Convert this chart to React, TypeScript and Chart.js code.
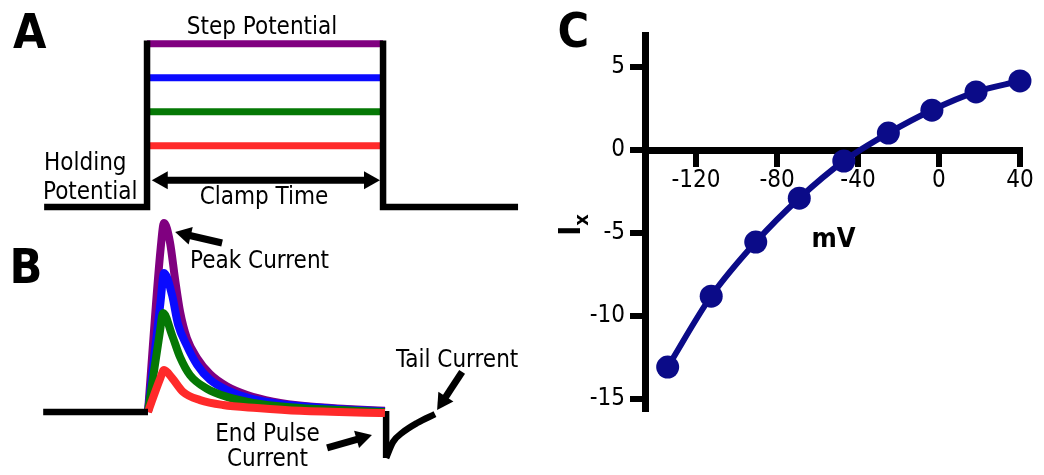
import React, { useEffect, useRef } from 'react';
import { Chart, registerables } from 'chart.js';

Chart.register(...registerables);

const FONT = '"DejaVu Sans Condensed", "Liberation Sans", Arial, sans-serif';

// ---------- Panel A : voltage protocol (time in ms-like units, potential in arbitrary steps)
const T_MIN = -62.3;
const T_MAX = 166.5;
const A_V_MIN = -0.235;
const A_V_MAX = 6.088;
const OUTLINE_T = [-43.6, 0, 0, 50, 100, 100, 157.2];
const OUTLINE_V: (number | null)[] = [0, 0, 4.9, null, 4.9, 0, 0];
const STEP_T = [0, 100];
const STEP_LEVELS = [1.8, 2.8, 3.8, 4.8];
const STEP_COLORS = ['#ff2a2a', '#057805', '#0a0aff', '#800080'];
const CLAMP_ARROW_T = [2.0, 98.7];
const CLAMP_ARROW_V = [0.79, 0.79];

// ---------- Panel B : current traces
const B_I_MIN = -33.33;
const B_I_MAX = 104.23;
const HOLD_T = [-44, 0.4];
const HOLD_I = [0, 0];
const RED_T = [0.4, 5.5, 7.2, 10.6, 15.3, 22.5, 32.2, 46.6, 64.8, 100.8];
const RED_I = [0, 17.5, 22.2, 18, 10.6, 6.3, 3.7, 2.1, 0.6, -0.5];
const GREEN_T = [0.4, 5.4, 6.8, 10.6, 14, 18.2, 25.4, 33.9, 44.9, 60.6, 81.8, 100.8];
const GREEN_I = [0, 42, 52.4, 40.7, 29, 19.5, 12.3, 8, 4.8, 2.5, 1, 0];
const BLUE_T = [0.4, 5.7, 7.2, 10.6, 13.1, 16.9, 21.2, 26.7, 33.9, 43.6, 56.4, 77.5, 100.8];
const BLUE_I = [0, 58, 73.5, 61.9, 46.5, 35, 25, 17, 11.6, 7.2, 4.3, 1.9, 0.3];
const PURPLE_T = [0.4, 5.8, 7.2, 9.7, 11.9, 14, 16.9, 21.2, 26.7, 33.9, 42.4, 53.4, 67.8, 84.7, 100.8];
const PURPLE_I = [0, 87, 100, 90, 70, 53, 39, 28.5, 20, 13.5, 9, 5.5, 3, 1.6, 0.6];
const TAIL_DROP_T = [101.3, 101.3];
const TAIL_DROP_I = [0.5, -24.3];
const TAIL_T = [101.3, 104.2, 108.5, 114.4, 122];
const TAIL_I = [-24.3, -15.9, -10.6, -5.8, -1.1];
const PEAK_ARROW_T = [31.8, 11.9];
const PEAK_ARROW_I = [89.4, 95.2];
const END_ARROW_T = [76.3, 95.3];
const END_ARROW_I = [-19, -12.2];
const TAILC_ARROW_T = [133.5, 122.9];
const TAILC_ARROW_I = [21.2, 1.06];

// ---------- Panel C : I-V relation
const MV = [-134, -112.5, -90.5, -69, -47, -25, -3.5, 18.3, 40];
const IX = [-13.07, -8.8, -5.54, -2.9, -0.66, 1.02, 2.4, 3.5, 4.16];
const X_TICKS = [-120, -80, -40, 0, 40];
const Y_TICKS = [-15, -10, -5, 0, 5];
const X_MIN = -145.2;
const X_MAX = 41.5;
const Y_MIN = -15.78;
const Y_MAX = 6.93;

const IV_COLOR = '#0b0b88';

type Arrow = { t: number[]; v: number[]; double?: boolean };

function pts(xs: number[], ys: (number | null)[]) {
  return xs.map((x, i) => ({ x, y: ys[i] }));
}

function arrowPlugin(arrows: Arrow[]) {
  return {
    id: 'arrows',
    afterDatasetsDraw(chart: any) {
      const ctx = chart.ctx as CanvasRenderingContext2D;
      const xs = chart.scales.x;
      const ys = chart.scales.y;
      const headLen = 16;
      const headW = 18;
      ctx.save();
      ctx.fillStyle = '#000';
      ctx.strokeStyle = '#000';
      ctx.lineWidth = 7;
      ctx.lineCap = 'butt';
      for (const a of arrows) {
        const x0 = xs.getPixelForValue(a.t[0]);
        const y0 = ys.getPixelForValue(a.v[0]);
        const x1 = xs.getPixelForValue(a.t[1]);
        const y1 = ys.getPixelForValue(a.v[1]);
        const len = Math.hypot(x1 - x0, y1 - y0);
        const ux = (x1 - x0) / len;
        const uy = (y1 - y0) / len;
        const sx = a.double ? x0 + ux * headLen * 0.8 : x0;
        const sy = a.double ? y0 + uy * headLen * 0.8 : y0;
        ctx.beginPath();
        ctx.moveTo(sx, sy);
        ctx.lineTo(x1 - ux * headLen * 0.8, y1 - uy * headLen * 0.8);
        ctx.stroke();
        const head = (tx: number, ty: number, dx: number, dy: number) => {
          const bx = tx - dx * headLen;
          const by = ty - dy * headLen;
          ctx.beginPath();
          ctx.moveTo(tx, ty);
          ctx.lineTo(bx - dy * headW / 2, by + dx * headW / 2);
          ctx.lineTo(bx + dy * headW / 2, by - dx * headW / 2);
          ctx.closePath();
          ctx.fill();
        };
        head(x1, y1, ux, uy);
        if (a.double) head(x0, y0, -ux, -uy);
      }
      ctx.restore();
    },
  };
}

function hiddenScales(yMin: number, yMax: number) {
  return {
    x: { type: 'linear', min: T_MIN, max: T_MAX, display: false },
    y: { type: 'linear', min: yMin, max: yMax, display: false },
  };
}

const baseOpts = {
  responsive: false,
  animation: false,
  devicePixelRatio: 1,
  layout: { padding: 0 },
  plugins: { legend: { display: false }, tooltip: { enabled: false } },
  elements: { point: { radius: 0 } },
};

function line(data: any[], color: string, width: number, extra: any = {}) {
  return {
    data,
    borderColor: color,
    backgroundColor: color,
    borderWidth: width,
    pointRadius: 0,
    fill: false,
    tension: 0,
    spanGaps: false,
    ...extra,
  };
}

function makeA() {
  const datasets: any[] = [line(pts(OUTLINE_T, OUTLINE_V), '#000', 6.5, { borderJoinStyle: 'miter' })];
  STEP_LEVELS.forEach((lv, i) => {
    datasets.push(line(pts(STEP_T, STEP_T.map(() => lv)), STEP_COLORS[i], 7));
  });
  return {
    type: 'line',
    data: { datasets },
    options: { ...baseOpts, scales: hiddenScales(A_V_MIN, A_V_MAX) },
    plugins: [arrowPlugin([{ t: CLAMP_ARROW_T, v: CLAMP_ARROW_V, double: true }])],
  };
}

function makeB() {
  const mono = { cubicInterpolationMode: 'monotone', borderJoinStyle: 'round' };
  const datasets: any[] = [
    line(pts(HOLD_T, HOLD_I), '#000', 6.5),
    line(pts(RED_T, RED_I), STEP_COLORS[0], 8, mono),
    line(pts(GREEN_T, GREEN_I), STEP_COLORS[1], 8, mono),
    line(pts(BLUE_T, BLUE_I), STEP_COLORS[2], 8, mono),
    line(pts(PURPLE_T, PURPLE_I), STEP_COLORS[3], 8, mono),
    line(pts(TAIL_DROP_T, TAIL_DROP_I), '#000', 6.5),
    line(pts(TAIL_T, TAIL_I), '#000', 6.5, mono),
  ];
  return {
    type: 'line',
    data: { datasets },
    options: { ...baseOpts, scales: hiddenScales(B_I_MIN, B_I_MAX) },
    plugins: [
      arrowPlugin([
        { t: PEAK_ARROW_T, v: PEAK_ARROW_I },
        { t: END_ARROW_T, v: END_ARROW_I },
        { t: TAILC_ARROW_T, v: TAILC_ARROW_I },
      ]),
    ],
  };
}

function makeC() {
  const tickFont = { family: FONT, size: 24, weight: 'normal' };
  return {
    type: 'line',
    data: {
      datasets: [
        {
          data: pts(MV, IX),
          borderColor: IV_COLOR,
          backgroundColor: IV_COLOR,
          borderWidth: 6,
          pointRadius: 11.5,
          pointBorderWidth: 0,
          pointBackgroundColor: IV_COLOR,
          cubicInterpolationMode: 'monotone',
          clip: false,
        },
      ],
    },
    options: {
      ...baseOpts,
      layout: { padding: { left: 45, top: 35, right: 21, bottom: 63 } },
      scales: {
        x: {
          type: 'linear',
          min: X_MIN,
          max: X_MAX,
          position: { y: 0 },
          afterBuildTicks: (s: any) => {
            s.ticks = X_TICKS.map((v) => ({ value: v }));
          },
          grid: { drawOnChartArea: false, drawTicks: true, tickLength: 13, tickWidth: 6, tickColor: '#000', lineWidth: 0 },
          border: { display: true, width: 7, color: '#000' },
          ticks: { font: tickFont, color: '#000', padding: 3, maxRotation: 0, autoSkip: false },
        },
        y: {
          type: 'linear',
          min: Y_MIN,
          max: Y_MAX,
          position: 'left',
          afterBuildTicks: (s: any) => {
            s.ticks = Y_TICKS.map((v) => ({ value: v }));
          },
          afterFit: (s: any) => {
            s.width = 60;
          },
          grid: { drawOnChartArea: false, drawTicks: true, tickLength: 15, tickWidth: 6, tickColor: '#000', lineWidth: 0 },
          border: { display: true, width: 7, color: '#000' },
          ticks: { font: tickFont, color: '#000', padding: 5, autoSkip: false },
        },
      },
    },
  };
}

function ChartBox({ make, left, top, width, height }: { make: () => any; left: number; top: number; width: number; height: number }) {
  const ref = useRef<HTMLCanvasElement>(null);
  useEffect(() => {
    const chart = new Chart(ref.current as HTMLCanvasElement, make());
    return () => chart.destroy();
  }, []);
  return (
    <canvas
      ref={ref}
      width={width}
      height={height}
      style={{ position: 'absolute', left, top, width, height }}
    />
  );
}

function Label({ text, left, top, size = 24, bold = false, center = false }: { text: React.ReactNode; left: number; top: number; size?: number; bold?: boolean; center?: boolean }) {
  return (
    <div
      style={{
        position: 'absolute',
        left,
        top,
        fontFamily: FONT,
        fontSize: size,
        fontWeight: bold ? 'bold' : 'normal',
        lineHeight: 1,
        whiteSpace: 'nowrap',
        color: '#000',
        transform: center ? 'translateX(-50%)' : undefined,
      }}
    >
      {text}
    </div>
  );
}

export default function App() {
  return (
    <div style={{ position: 'absolute', left: 0, top: 0, width: 1044, height: 475, background: '#fff', overflow: 'hidden' }}>
      <ChartBox make={makeA} left={0} top={0} width={540} height={215} />
      <ChartBox make={makeB} left={0} top={215} width={540} height={260} />
      <ChartBox make={makeC} left={540} top={0} width={504} height={475} />

      <Label text="A" left={13} top={6.8} size={48} bold />
      <Label text="B" left={9.5} top={242.4} size={48} bold />
      <Label text="C" left={557.6} top={6.4} size={48} bold />

      <Label text="Step Potential" left={262} top={13.7} center />
      <Label text="Holding" left={44} top={149.7} />
      <Label text="Potential" left={43} top={178.7} />
      <Label text="Clamp Time" left={264} top={183.7} center />

      <Label text="Peak Current" left={190} top={247.7} />
      <Label text="Tail Current" left={396} top={346.7} />
      <div
        style={{
          position: 'absolute',
          left: 267.5,
          top: 421.2,
          transform: 'translateX(-50%)',
          fontFamily: FONT,
          fontSize: 24,
          lineHeight: '25px',
          textAlign: 'center',
          whiteSpace: 'nowrap',
        }}
      >
        End Pulse
        <br />
        Current
      </div>

      <Label text="mV" left={811.5} top={224.1} size={27} bold />
      <div
        style={{
          position: 'absolute',
          left: 571.3,
          top: 224.7,
          transform: 'translate(-50%, -50%) rotate(-90deg)',
          fontFamily: FONT,
          fontSize: 30,
          fontWeight: 'bold',
          lineHeight: '30px',
          whiteSpace: 'nowrap',
        }}
      >
        I<span style={{ fontSize: 20, position: 'relative', top: 8 }}>x</span>
      </div>
    </div>
  );
}
